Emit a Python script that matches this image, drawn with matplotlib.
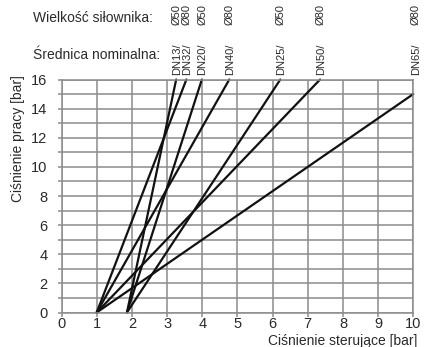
import matplotlib
matplotlib.use("Agg")
import matplotlib.pyplot as plt
from matplotlib.ticker import MultipleLocator
import matplotlib.transforms as mtransforms

plt.rcParams['font.family'] = ['Liberation Sans', 'DejaVu Sans']

# Valve series: nominal diameter, actuator size, start of control pressure,
# and the point where each characteristic line ends
dn_labels = ["DN13/", "DN32/", "DN20/", "DN40/", "DN25/", "DN50/", "DN65/"]
actuator_labels = ["Ø50", "Ø80", "Ø50", "Ø80", "Ø50", "Ø80", "Ø80"]
start_control = [1.86, 1.0, 1.86, 1.0, 1.86, 1.0, 1.0]
end_control = [3.26, 3.55, 3.99, 4.77, 6.22, 7.35, 10.0]
end_working = [16, 16, 16, 16, 16, 16, 15]

x_ticks = list(range(0, 11))
y_ticks = list(range(0, 17, 2))

W, H = 426, 347
fig = plt.figure(figsize=(W / 100, H / 100), dpi=100)
ax = fig.add_axes([61.5 / W, 1 - 312.5 / H, (413.3 - 61.5) / W, (312.5 - 79.5) / H])

grid_col = "#8c8c8c"
text_col = "#2a2a2a"

ax.set_xlim(0, 10)
ax.set_ylim(0, 16)
ax.set_xticks(x_ticks)
ax.set_yticks(y_ticks)
ax.yaxis.set_minor_locator(MultipleLocator(1))
ax.grid(True, which="both", color=grid_col, linewidth=1.1)
ax.set_axisbelow(True)
for s in ax.spines.values():
    s.set_color(grid_col)
    s.set_linewidth(1.1)
ax.tick_params(axis="both", which="both", direction="out", length=3,
               color=grid_col, width=1.1, labelsize=10.5, labelcolor=text_col)
ax.tick_params(axis="y", pad=7)
ax.tick_params(axis="x", pad=0.5)

for x0, x1, y1 in zip(start_control, end_control, end_working):
    ax.plot([x0, x1], [0, y1], color="#111111", linewidth=1.6,
            solid_capstyle="round", clip_on=False)

# rotated series labels above the plot
trans = mtransforms.blended_transform_factory(ax.transData, fig.transFigure)
for x1, dn, act in zip(end_control, dn_labels, actuator_labels):
    xl = x1 + (0.08 if x1 >= 10 else 0.02)
    fig.text(xl, 1 - 75 / H, dn, rotation=90, ha="center", va="bottom",
             fontsize=8, color=text_col, transform=trans)
    fig.text(xl, 1 - 25 / H, act, rotation=90, ha="center", va="bottom",
             fontsize=8, color=text_col, transform=trans)

fig.text(33 / W, 1 - 18 / H, "Wielkość siłownika:", ha="left", va="center",
         fontsize=10, color=text_col)
fig.text(33 / W, 1 - 55 / H, "Średnica nominalna:", ha="left", va="center",
         fontsize=10, color=text_col)

fig.text(18 / W, 1 - 75 / H, "Ciśnienie pracy [bar]", rotation=90,
         ha="center", va="top", fontsize=10, color=text_col)
fig.text(417 / W, 1 - 341 / H, "Ciśnienie sterujące [bar]", ha="right",
         va="center", fontsize=10, color=text_col)

fig.savefig("out.png", dpi=100, facecolor="white")
